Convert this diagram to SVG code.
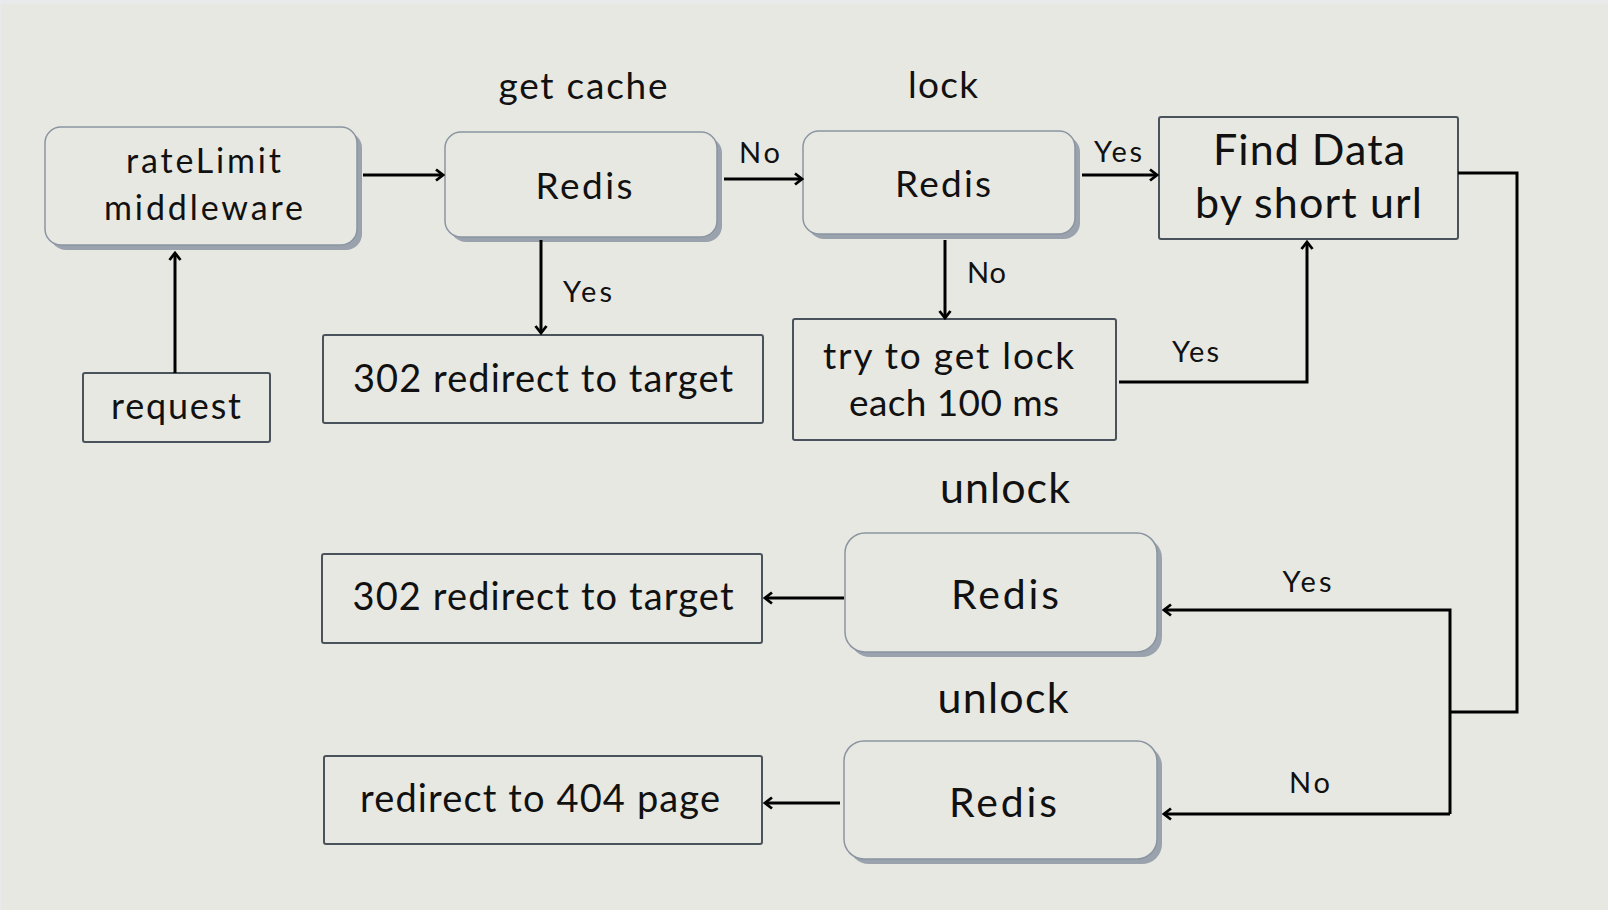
<svg xmlns="http://www.w3.org/2000/svg" width="1608" height="910" viewBox="0 0 1608 910">
  <style>
    .t { font-family: Lato, "Open Sans", "Liberation Sans", sans-serif; fill: #111; text-anchor: middle; }
    .rbox { fill: #e8e8e2; stroke: #8a95a1; stroke-width: 1.5; }
    .shadow { fill: #9aa3ad; }
    .sbox { fill: #e8e8e2; stroke: #4a525c; stroke-width: 2; }
    .conn { fill: none; stroke: #000; stroke-width: 3; stroke-linejoin: miter; }
  </style>
  <defs>
    <marker id="arrow" viewBox="0 0 14 14" refX="12" refY="7" markerWidth="14" markerHeight="14" markerUnits="userSpaceOnUse" orient="auto">
      <path d="M5,1.5 L12,7 L5,12.5" fill="none" stroke="#000" stroke-width="2.8"/>
    </marker>
  </defs>

  <rect x="0" y="0" width="1608" height="910" fill="#e9eaec"/>
  <rect x="1" y="4" width="1607" height="906" fill="#e8e8e2"/>

  <g id="n-ratelimit">
    <rect class="shadow" x="50" y="132" width="312" height="118" rx="16"/>
    <rect class="rbox" x="45" y="127" width="312" height="118" rx="16"/>
    <text class="t" x="203.5" y="173" font-size="34" textLength="155">rateLimit</text>
    <text class="t" x="203.5" y="220" font-size="34" textLength="199">middleware</text>
  </g>

  <g id="n-request">
    <rect class="sbox" x="83" y="373" width="187" height="69" rx="2"/>
    <text class="t" x="176" y="419" font-size="36" textLength="130">request</text>
  </g>

  <g id="n-getcache">
    <text class="t" x="583" y="99" font-size="37" textLength="169">get cache</text>
    <rect class="shadow" x="450" y="137" width="272" height="105" rx="16"/>
    <rect class="rbox" x="445" y="132" width="272" height="105" rx="16"/>
    <text class="t" x="584" y="199" font-size="37" textLength="97">Redis</text>
  </g>

  <g id="n-302a">
    <rect class="sbox" x="323" y="335" width="440" height="88" rx="2"/>
    <text class="t" x="543" y="392" font-size="38" textLength="380">302 redirect to target</text>
  </g>

  <g id="n-lock">
    <text class="t" x="943" y="98" font-size="37" textLength="70">lock</text>
    <rect class="shadow" x="808" y="136" width="272" height="103" rx="16"/>
    <rect class="rbox" x="803" y="131" width="272" height="103" rx="16"/>
    <text class="t" x="943" y="197" font-size="37" textLength="96">Redis</text>
  </g>

  <g id="n-finddata">
    <rect class="sbox" x="1159" y="117" width="299" height="122" rx="2"/>
    <text class="t" x="1309" y="165" font-size="43" textLength="192">Find Data</text>
    <text class="t" x="1308.5" y="218" font-size="43" textLength="227">by short url</text>
  </g>

  <g id="n-trylock">
    <rect class="sbox" x="793" y="319" width="323" height="121" rx="2"/>
    <text class="t" x="948.5" y="369" font-size="37" textLength="251">try to get lock</text>
    <text class="t" x="954" y="416" font-size="37" textLength="210">each 100 ms</text>
  </g>

  <g id="n-unlock1">
    <text class="t" x="1005" y="503" font-size="43" textLength="130">unlock</text>
    <rect class="shadow" x="850" y="538" width="312" height="119" rx="20"/>
    <rect class="rbox" x="845" y="533" width="312" height="119" rx="20"/>
    <text class="t" x="1005" y="609" font-size="41" textLength="108">Redis</text>
  </g>

  <g id="n-302b">
    <rect class="sbox" x="322" y="554" width="440" height="89" rx="2"/>
    <text class="t" x="543" y="610" font-size="38" textLength="381">302 redirect to target</text>
  </g>

  <g id="n-unlock2">
    <text class="t" x="1003" y="713" font-size="43" textLength="131">unlock</text>
    <rect class="shadow" x="849" y="746" width="313" height="118" rx="20"/>
    <rect class="rbox" x="844" y="741" width="313" height="118" rx="20"/>
    <text class="t" x="1003" y="817" font-size="41" textLength="108">Redis</text>
  </g>

  <g id="n-404">
    <rect class="sbox" x="324" y="756" width="438" height="88" rx="2"/>
    <text class="t" x="540" y="812" font-size="38" textLength="360">redirect to 404 page</text>
  </g>

  <g id="connectors">
    <path class="conn" d="M175,373 V253" marker-end="url(#arrow)"/>
    <path class="conn" d="M363,175 H443" marker-end="url(#arrow)"/>
    <path class="conn" d="M724,179 H802" marker-end="url(#arrow)"/>
    <path class="conn" d="M541,240 V333" marker-end="url(#arrow)"/>
    <path class="conn" d="M1082,175 H1157" marker-end="url(#arrow)"/>
    <path class="conn" d="M945,240 V318" marker-end="url(#arrow)"/>
    <path class="conn" d="M1119,382 H1307 V242" marker-end="url(#arrow)"/>
    <path class="conn" d="M1458,173 H1517 V712 H1450" stroke-width="3.5"/>
    <path class="conn" d="M1450,814 V610 H1164" marker-end="url(#arrow)"/>
    <path class="conn" d="M1450,814 H1164" marker-end="url(#arrow)"/>
    <path class="conn" d="M844,598 H765" marker-end="url(#arrow)"/>
    <path class="conn" d="M840,803 H765" marker-end="url(#arrow)"/>

    <text class="t" x="759.5" y="163" font-size="29" textLength="41">No</text>
    <text class="t" x="1118" y="162" font-size="29" textLength="48">Yes</text>
    <text class="t" x="587.5" y="302" font-size="29" textLength="49">Yes</text>
    <text class="t" x="986.5" y="283" font-size="29" textLength="39">No</text>
    <text class="t" x="1195.5" y="362" font-size="29" textLength="47">Yes</text>
    <text class="t" x="1307" y="592" font-size="29" textLength="49">Yes</text>
    <text class="t" x="1309.5" y="793" font-size="29" textLength="41">No</text>
  </g>
</svg>
